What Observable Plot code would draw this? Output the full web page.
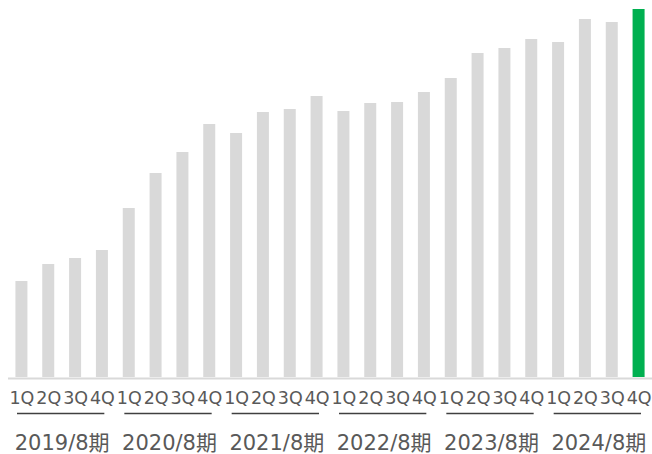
<!DOCTYPE html>
<html>
<head>
<meta charset="utf-8">
<script src="https://cdn.jsdelivr.net/npm/d3@7"></script>
<script src="https://cdn.jsdelivr.net/npm/@observablehq/plot@0.6"></script>
<style>
  html, body { margin: 0; padding: 0; background: #fff; overflow: hidden; width: 652px; height: 454px; }
  #chart svg { display: block; max-width: none !important; }
</style>
</head>
<body>
<div id="chart"></div>
<script>
const years = ["2019/8期", "2020/8期", "2021/8期", "2022/8期", "2023/8期", "2024/8期"];
const quarters = ["1Q", "2Q", "3Q", "4Q"];
const values = [
  96, 113, 119, 127,
  169, 204, 225, 253,
  244, 265, 268, 281,
  266, 274, 275, 285,
  299, 324, 329, 338,
  335, 358, 355, 368
];

const rows = [];
years.forEach((yr, i) => quarters.forEach((q, j) => {
  rows.push({year: yr, q, key: yr + "|" + q, value: values[i * 4 + j], last: i === years.length - 1 && j === 3});
}));
const domain = rows.map(d => d.key);

const W = 652, H = 454, mL = 8, mR = 0;
const step = (W - mL - mR) / domain.length;
const inset = (step - 12) / 2;
const font = '"DejaVu Sans", Verdana, "Noto Sans CJK JP", sans-serif';

const chart = Plot.plot({
  width: W,
  height: H,
  marginLeft: mL,
  marginRight: mR,
  marginTop: 9,
  marginBottom: 77,
  style: {fontFamily: font, color: "#595959", background: "#fff"},
  x: {domain, padding: 0, round: false, axis: null, label: null},
  y: {domain: [0, 368], axis: null},
  marks: [
    Plot.barY(rows, {x: "key", y: "value", fill: d => d.last ? "#00b050" : "#d9d9d9", insetLeft: inset, insetRight: inset}),
    Plot.ruleY([0], {stroke: "#d9d9d9", strokeWidth: 2, dy: 1}),
    Plot.axisX({tickSize: 0, tickPadding: 14, fontSize: 17.5, label: null, tickFormat: d => d.split("|")[1], fill: "#595959"}),
    Plot.ruleY(years, {y: () => 0, x1: d => d + "|1Q", x2: d => d + "|4Q", insetLeft: 9, insetRight: 11, dy: 36, stroke: "#404040", strokeWidth: 1.5}),
    Plot.text(years, {x: d => d + "|2Q", y: () => 0, text: d => d, dx: step / 2, dy: 66, fontSize: 21, fill: "#595959"})
  ]
});
document.getElementById("chart").appendChild(chart);
</script>
</body>
</html>
